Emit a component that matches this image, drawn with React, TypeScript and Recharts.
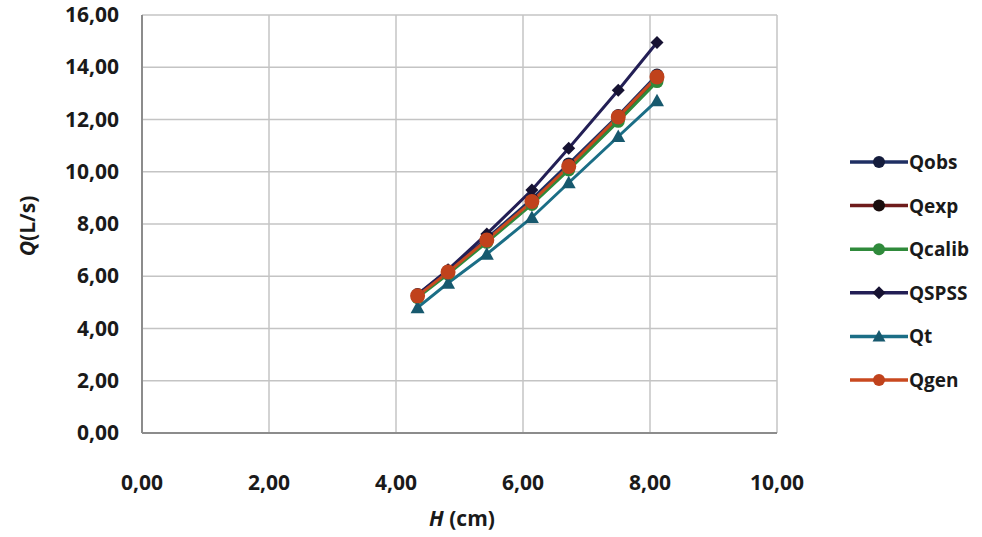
import React from 'react';
import { LineChart, Line, XAxis, YAxis, CartesianGrid } from 'recharts';

// H (cm) values, shared by every series
const hValues = [4.34, 4.82, 5.43, 6.14, 6.72, 7.5, 8.11];

// Q (L/s) per series
const qObs = [5.3, 6.2, 7.45, 8.95, 10.3, 12.15, 13.7];
const qExp = [5.22, 6.12, 7.35, 8.82, 10.15, 12.02, 13.55];
const qCalib = [5.18, 6.08, 7.3, 8.75, 10.07, 11.93, 13.45];
const qSpss = [5.3, 6.25, 7.62, 9.3, 10.9, 13.12, 14.95];
const qT = [4.8, 5.74, 6.85, 8.25, 9.58, 11.35, 12.72];
const qGen = [5.25, 6.16, 7.39, 8.86, 10.2, 12.1, 13.63];

const xTicks = [0, 2, 4, 6, 8, 10];
const yTicks = [0, 2, 4, 6, 8, 10, 12, 14, 16];

const data = hValues.map((h, i) => ({
  h,
  Qobs: qObs[i],
  Qexp: qExp[i],
  Qcalib: qCalib[i],
  QSPSS: qSpss[i],
  Qt: qT[i],
  Qgen: qGen[i],
}));

type Shape = 'circle' | 'diamond' | 'triangle';

const series: { key: string; line: string; marker: string; shape: Shape; r: number }[] = [
  { key: 'Qobs', line: '#1f2f63', marker: '#141c3c', shape: 'circle', r: 6.5 },
  { key: 'Qexp', line: '#6e1c1c', marker: '#1a0d0d', shape: 'circle', r: 6.5 },
  { key: 'Qcalib', line: '#2f8a3b', marker: '#2f8a3b', shape: 'circle', r: 6.5 },
  { key: 'QSPSS', line: '#231f55', marker: '#161232', shape: 'diamond', r: 6.5 },
  { key: 'Qt', line: '#1b6e86', marker: '#17596e', shape: 'triangle', r: 7 },
  { key: 'Qgen', line: '#c9491f', marker: '#c0421c', shape: 'circle', r: 7.5 },
];

const FONT = '"Open Sans", sans-serif';
const fmt = (v: number) => v.toFixed(2).replace('.', ',');

const drawMarker = (shape: Shape, cx: number, cy: number, color: string, s: number, key?: string) => {
  if (shape === 'diamond') {
    return <path key={key} d={`M${cx},${cy - s}L${cx + s},${cy}L${cx},${cy + s}L${cx - s},${cy}Z`} fill={color} />;
  }
  if (shape === 'triangle') {
    return <path key={key} d={`M${cx},${cy - s}L${cx + s},${cy + s * 0.8}L${cx - s},${cy + s * 0.8}Z`} fill={color} />;
  }
  return <circle key={key} cx={cx} cy={cy} r={s} fill={color} />;
};

const makeDot = (shape: Shape, color: string, r: number) => (props: any) => {
  const { cx, cy, index } = props;
  return drawMarker(shape, cx, cy, color, r, `d-${index}`);
};

const XTick = ({ x, y, payload }: any) => (
  <text x={x} y={y + 49} textAnchor="middle" fontFamily={FONT} fontWeight={700} fontSize={21} fill="#1a1a1a">
    {fmt(payload.value)}
  </text>
);

const YTick = ({ y, payload }: any) => (
  <text x={119} y={y + 7} textAnchor="end" fontFamily={FONT} fontWeight={700} fontSize={21} fill="#1a1a1a">
    {fmt(payload.value)}
  </text>
);

const LegendBox = () => (
  <svg width={142} height={260} style={{ position: 'absolute', left: 840, top: 140 }}>
    {series.map((s, i) => {
      const y = 22 + i * 43.6;
      return (
        <g key={s.key}>
          <line x1={10} x2={68} y1={y} y2={y} stroke={s.line} strokeWidth={3.5} />
          {drawMarker(s.shape, 39, y, s.marker, s.shape === 'circle' ? 6 : 6.5)}
          <text x={69} y={y + 7} fontFamily={FONT} fontWeight={700} fontSize={19} fill="#1a1a1a">
            {s.key}
          </text>
        </g>
      );
    })}
  </svg>
);

export default function App() {
  return (
    <div style={{ position: 'absolute', left: 0, top: 0, width: 982, height: 537, background: '#fff' }}>
      <LineChart width={982} height={537} data={data} margin={{ top: 15, right: 205, bottom: 0, left: 0 }}>
        <CartesianGrid stroke="#c4c4c4" strokeWidth={1.5} />
        <XAxis
          type="number"
          dataKey="h"
          domain={[0, 10]}
          ticks={xTicks}
          height={104}
          tick={<XTick />}
          tickLine={false}
          axisLine={{ stroke: '#8c8c8c', strokeWidth: 2 }}
        />
        <YAxis
          type="number"
          domain={[0, 16]}
          ticks={yTicks}
          width={142}
          tick={<YTick />}
          tickLine={false}
          axisLine={{ stroke: '#8c8c8c', strokeWidth: 2 }}
        />
        {series.map((s) => (
          <Line
            key={s.key}
            type="linear"
            dataKey={s.key}
            stroke={s.line}
            strokeWidth={3}
            dot={makeDot(s.shape, s.marker, s.r)}
            activeDot={false}
            isAnimationActive={false}
          />
        ))}
        <text x={35} y={226} transform="rotate(-90 35 226)" textAnchor="middle" fontFamily={FONT} fontWeight={700} fontSize={21} fill="#1a1a1a">
          <tspan fontStyle="italic">Q</tspan>
          <tspan>(L/s)</tspan>
        </text>
        <text x={462} y={526} textAnchor="middle" fontFamily={FONT} fontWeight={700} fontSize={21} fill="#1a1a1a">
          <tspan fontStyle="italic">H</tspan>
          <tspan> (cm)</tspan>
        </text>
      </LineChart>
      <LegendBox />
    </div>
  );
}
